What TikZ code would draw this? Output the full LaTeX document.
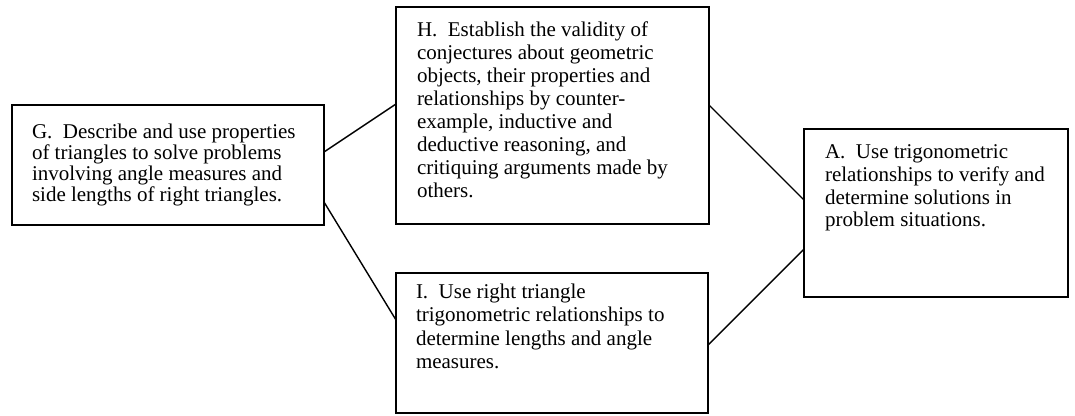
\documentclass[tikz,border=0pt]{standalone}
\usepackage{fontspec}
\setmainfont{Liberation Serif}
\usetikzlibrary{calc}
\begin{document}
\begin{tikzpicture}[x=1pt,y=-1pt,
  box/.style={draw=black,line width=2pt,rectangle,inner sep=0pt,outer sep=0pt},
  txt/.style={anchor=north west,inner sep=0pt,outer sep=0pt,align=left},
  link/.style={draw=black,line width=1.4pt}]
\useasboundingbox (0,0) rectangle (1075,415);
% boxes
\node[box,minimum width=312pt,minimum height=120pt] (G) at (168,165) {};
\node[box,minimum width=313pt,minimum height=217pt] (H) at (552.5,115.5) {};
\node[box,minimum width=264pt,minimum height=168pt] (A) at (936,213) {};
\node[box,minimum width=312pt,minimum height=140pt] (I) at (552,343) {};
% texts
\node[txt,font=\fontsize{21}{21}\selectfont] (Gt) at (32,123.7)
  {G.\ \ Describe and use properties\\of triangles to solve problems\\involving angle measures and\\side lengths of right triangles.};
\node[txt,font=\fontsize{21}{23}\selectfont] (Ht) at (417,21.7)
  {H.\ \ Establish the validity of\\conjectures about geometric\\objects, their properties and\\relationships by counter-\\example, inductive and\\deductive reasoning, and\\critiquing arguments made by\\others.};
\node[txt,font=\fontsize{21}{22.8}\selectfont] (At) at (825,144.5)
  {A.\ \ Use trigonometric\\relationships to verify and\\determine solutions in\\problem situations.};
\node[txt,font=\fontsize{21}{23.5}\selectfont] (It) at (416,283.7)
  {I.\ \ Use right triangle\\trigonometric relationships to\\determine lengths and angle\\measures.};
% connectors
\draw[link] ([yshift=-47pt]G.north east) -- ([yshift=-97pt]H.north west);
\draw[link] ([yshift=-97pt]G.north east) -- ([yshift=-47pt]I.north west);
\draw[link] ([yshift=-98pt]H.north east) -- ([yshift=-71pt]A.north west);
\draw[link] ([yshift=-72pt]I.north east) -- ([yshift=-120pt]A.north west);
\end{tikzpicture}
\end{document}
